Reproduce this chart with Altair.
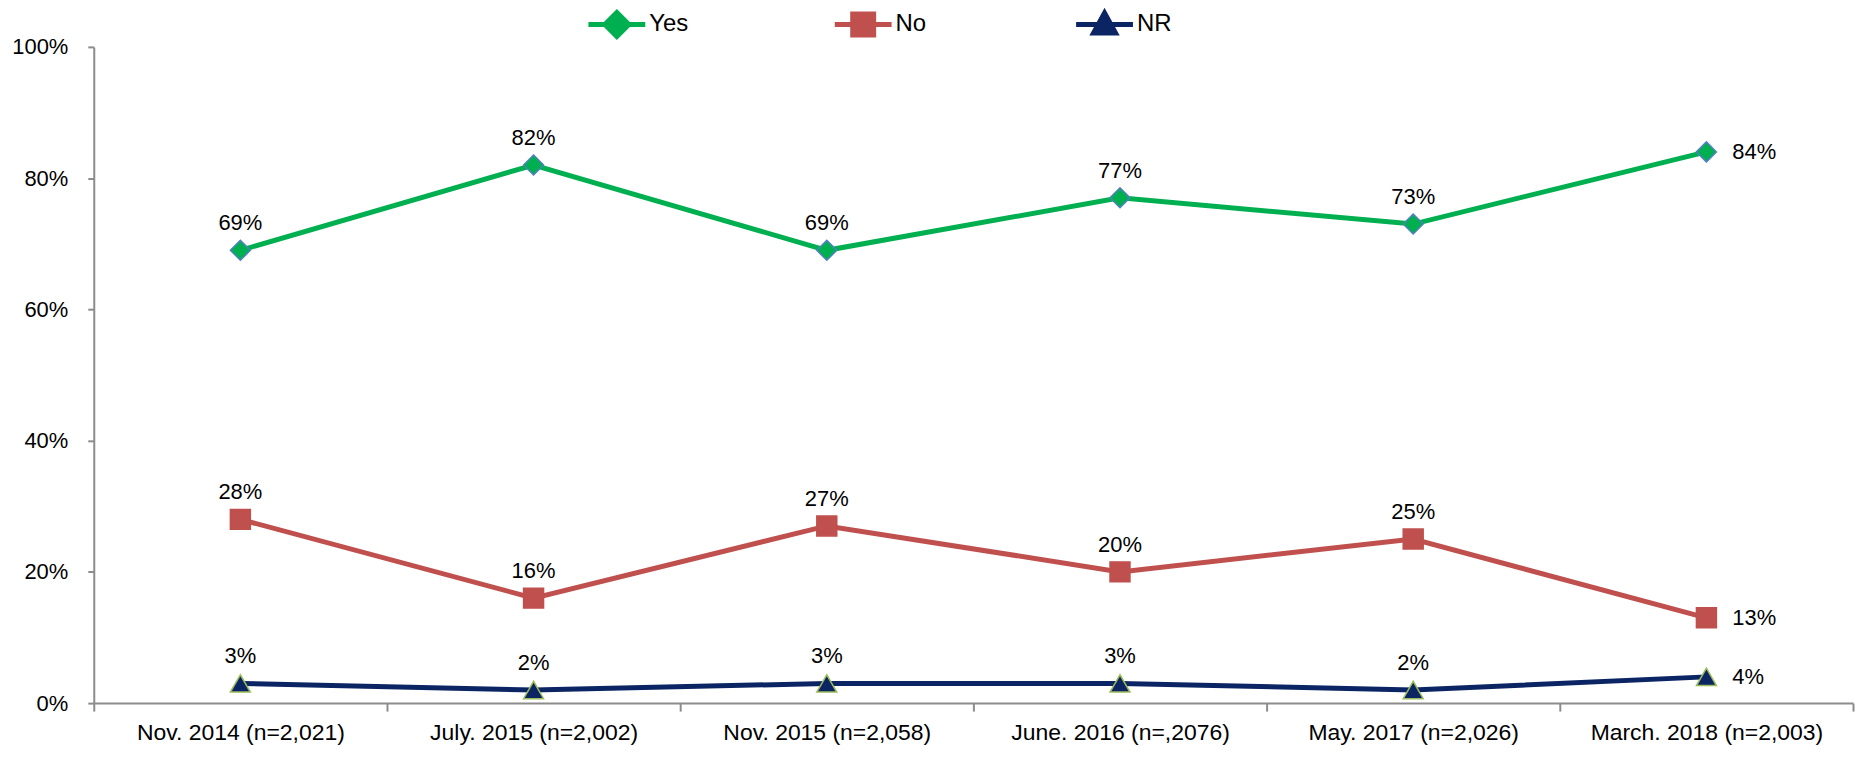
import altair as alt
import pandas as pd

categories = [
    "Nov. 2014 (n=2,021)",
    "July. 2015 (n=2,002)",
    "Nov. 2015 (n=2,058)",
    "June. 2016 (n=,2076)",
    "May. 2017 (n=2,026)",
    "March. 2018 (n=2,003)",
]
series_names = ["Yes", "No", "NR"]
yes_vals = [69, 82, 69, 77, 73, 84]
no_vals = [28, 16, 27, 20, 25, 13]
nr_vals = [3, 2, 3, 3, 2, 4]

line_colors = ["#00B050", "#C0504D", "#0B2463"]
marker_stroke = ["#4F81BD", "#C0504D", "#9BBB59"]
marker_shapes = ["diamond", "square", "triangle-up"]
legend_paths = [
    "M-2.85,0H2.85M0,-1.2L1.2,0L0,1.2L-1.2,0Z",
    "M-2.85,0H2.85M-1.05,-1.05H1.05V1.05H-1.05Z",
    "M-2.85,0H2.85M0,-1.15L1.1,0.85H-1.1Z",
]
legend_x = [512, 759, 1001]

FONT = "Liberation Sans"

rows = []
for s, vals in zip(series_names, [yes_vals, no_vals, nr_vals]):
    for i, (c, v) in enumerate(zip(categories, vals)):
        rows.append({"category": c, "series": s, "value": v / 100.0,
                     "label": f"{v}%", "last": i == len(categories) - 1})
df = pd.DataFrame(rows)

x_enc = alt.X(
    "category:N", sort=categories, bandPosition=0.5,
    scale=alt.Scale(type="band", paddingInner=0, paddingOuter=0),
    axis=alt.Axis(title=None, labelAngle=0, tickBand="extent", grid=False,
                  domainColor="#8C8C8C", domainWidth=2, tickColor="#8C8C8C",
                  tickWidth=2, tickSize=8, labelFont=FONT, labelFontSize=23,
                  labelColor="black", labelPadding=10, labelLimit=0),
)
y_enc = alt.Y(
    "value:Q", scale=alt.Scale(domain=[0, 1], nice=False),
    axis=alt.Axis(title=None, format="%", values=[0, 0.2, 0.4, 0.6, 0.8, 1.0],
                  grid=False, domainColor="#8C8C8C", domainWidth=2,
                  tickColor="#8C8C8C", tickWidth=2, tickSize=6,
                  labelFont=FONT, labelFontSize=22, labelColor="black",
                  labelPadding=20),
)


def make_legend(i):
    return alt.Legend(
        orient="none", legendX=legend_x[i], legendY=-35, title=None,
        labelFont=FONT, labelFontSize=24, labelColor="black", symbolSize=400,
        symbolType=legend_paths[i], symbolFillColor=line_colors[i],
        symbolStrokeColor=line_colors[i], symbolStrokeWidth=5, symbolOpacity=1,
        labelOffset=20,
    )


layers = []
for i, s in enumerate(series_names):
    sub = alt.Chart(df).transform_filter(alt.datum.series == s)
    line = sub.mark_line(strokeWidth=5).encode(
        x=x_enc, y=y_enc,
        color=alt.Color("series:N", scale=alt.Scale(domain=[s], range=[line_colors[i]]),
                        legend=make_legend(i)),
    )
    pts = sub.mark_point(filled=True, size=400, strokeWidth=1.5, opacity=1,
                         shape=marker_shapes[i], fill=line_colors[i],
                         stroke=marker_stroke[i]).encode(x=x_enc, y=y_enc)
    layers.append(alt.layer(line, pts))

labels_top = alt.Chart(df).transform_filter("!datum.last").mark_text(
    dy=-27, fontSize=22, font=FONT, color="black"
).encode(x=x_enc, y=y_enc, text="label:N")

labels_right = alt.Chart(df).transform_filter("datum.last").mark_text(
    dx=26, align="left", fontSize=22, font=FONT, color="black"
).encode(x=x_enc, y=y_enc, text="label:N")

chart = alt.layer(*layers, labels_top, labels_right).resolve_scale(
    color="independent"
).properties(
    width=1764, height=658,
    padding={"left": 3, "top": 3, "right": 2, "bottom": 2},
).configure_view(stroke=None)

chart.save("out.html", embed_options={"renderer": "svg", "actions": False})
